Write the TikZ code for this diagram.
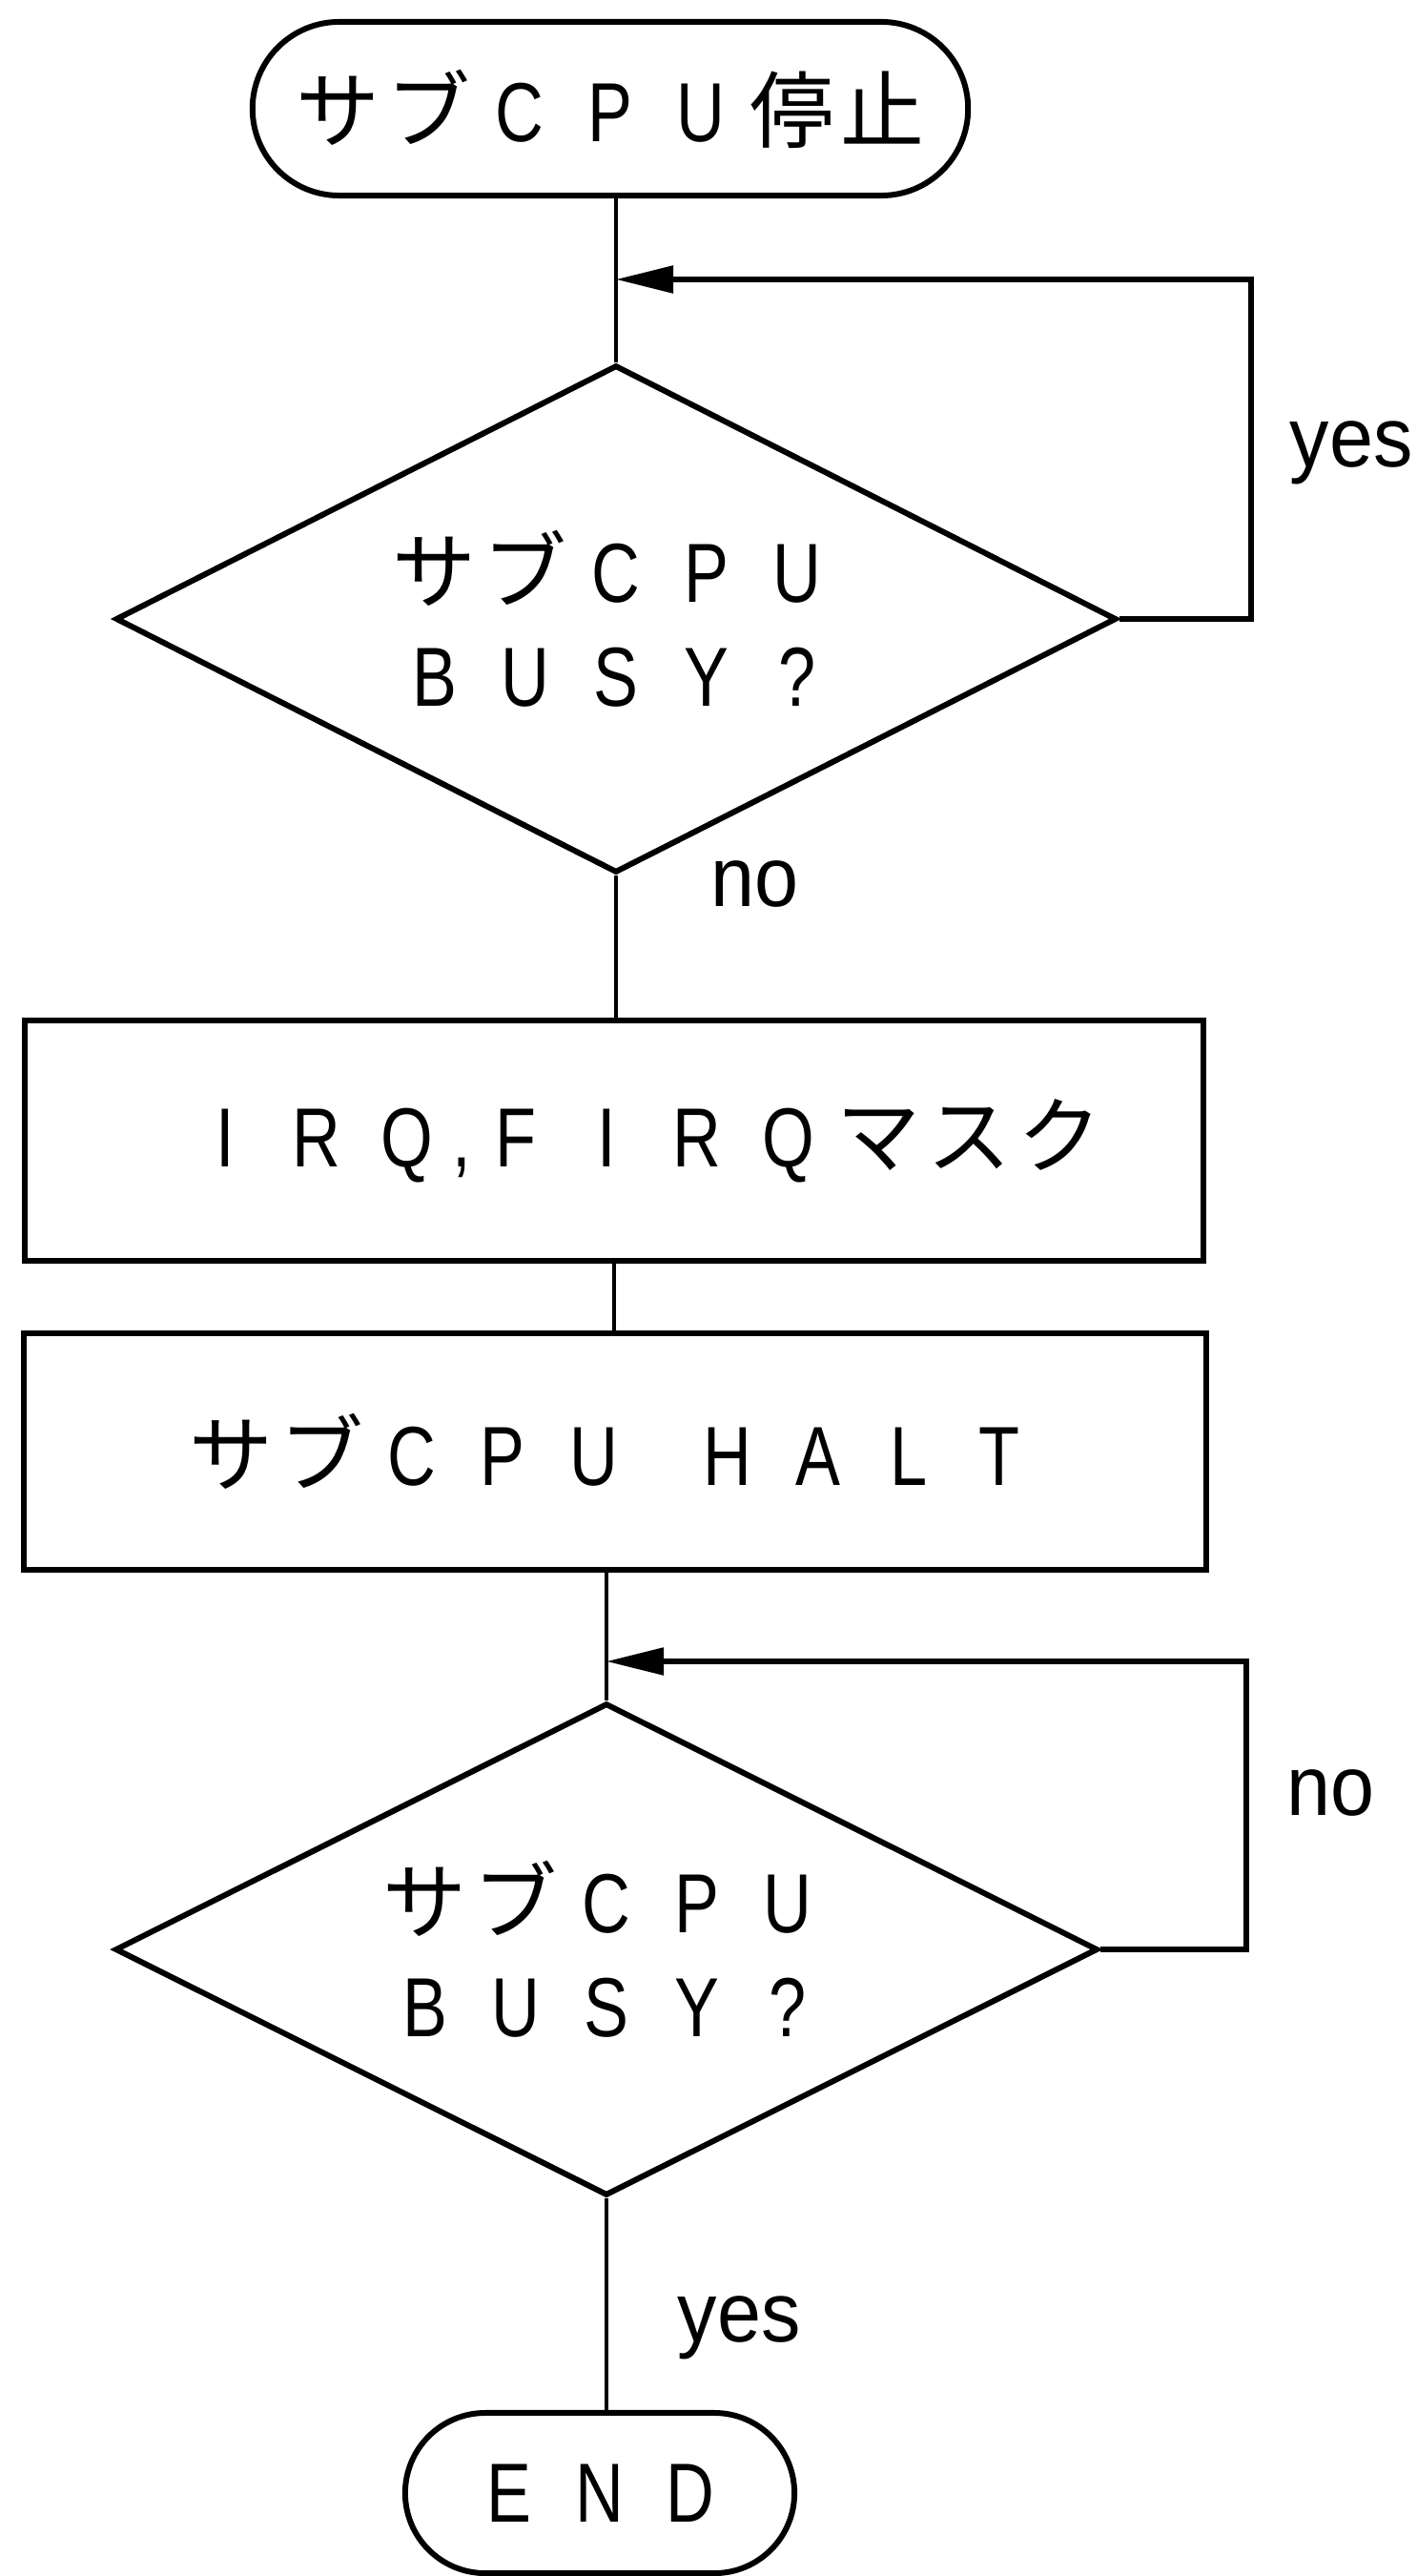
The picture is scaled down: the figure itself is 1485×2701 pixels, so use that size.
\documentclass[tikz,border=0pt]{standalone}
\usepackage{fontspec}
\setmainfont{Liberation Sans}
\newfontfamily\jpfont{Noto Sans CJK JP}
\newfontfamily\latinfont[FakeStretch=0.8]{Liberation Sans}
\newfontfamily\lblfont[FakeStretch=0.93]{Liberation Sans}
\usetikzlibrary{shapes.geometric,shapes.misc,arrows.meta}

% every character sits centred in a full-width cell
\newcommand\fw[1]{\makebox[0.95cm]{\fontsize{25pt}{30pt}\latinfont #1}}
\newcommand\kc[1]{\makebox[0.95cm]{\fontsize{25pt}{30pt}\jpfont #1}}
\def\fws#1{\fwsloop#1\relax}
\def\fwsloop#1{\ifx#1\relax\else\fw{#1}\expandafter\fwsloop\fi}
\def\kcs#1{\kcsloop#1\relax}
\def\kcsloop#1{\ifx#1\relax\else\kc{#1}\expandafter\kcsloop\fi}

\begin{document}
\begin{tikzpicture}[x=0.01cm,y=-0.01cm,
  shapeline/.style={draw=black,line width=1.7pt},
  jptext/.style={font=\jpfont\fontsize{25pt}{31pt}\selectfont},
  terminal/.style={shapeline,rounded rectangle,inner sep=0pt,jptext},
  process/.style={shapeline,rectangle,inner sep=0pt,jptext},
  decision/.style={shapeline,diamond,inner sep=0pt,align=center,jptext},
  conn/.style={line width=1.3pt},
  back/.style={line width=1.5pt,-{Triangle[length=0.6cm,width=0.28cm]}},
  lbl/.style={font=\lblfont\fontsize{25.3pt}{30pt}\selectfont,anchor=base west,inner sep=0pt}]

\useasboundingbox (0,0) rectangle (1485,2701);

% flow nodes
\node[terminal,minimum width=7.5cm,minimum height=1.82cm] (start) at (640,114) {\kcs{サブ}\fws{CPU}\kcs{停止}};
\node[decision,aspect=1.97,minimum width=10.49cm,minimum height=5.32cm] (d1) at (646,649) {\kcs{サブ}\fws{CPU}\\\fws{BUSY?}};
\node[process,minimum width=12.35cm,minimum height=2.51cm] (b1) at (644,1196) {\hspace*{0.6cm}\fws{IRQ}{\latinfont\fontsize{25pt}{30pt}\selectfont,}\fws{FIRQ}\kcs{マスク}};
\node[process,minimum width=12.4cm,minimum height=2.48cm] (b2) at (645,1522) {\kcs{サブ}\fws{CPU}\hspace{0.45cm}\fws{HALT}};
\node[decision,aspect=2,minimum width=10.3cm,minimum height=5.16cm] (d2) at (636,2044) {\kcs{サブ}\fws{CPU}\\\fws{BUSY?}};
\node[terminal,minimum width=4.08cm,minimum height=1.68cm] (endt) at (629,2614) {\fws{END}};

% branch labels
\node[lbl] (yes1) at (1352,490) {yes};
\node[lbl] (no1) at (745,950) {no};
\node[lbl] (no2) at (1349,1903) {no};
\node[lbl] (yes2) at (710,2455) {yes};

% junctions of the wait loops
\coordinate (j1) at (646,293);
\coordinate (r1) at (1312,293);
\coordinate (j2) at (636,1742);
\coordinate (r2) at (1307,1742);

% connectors
\draw[conn] (start.south -| j1) -- (d1.north);
\draw[back] (d1.east) -| (r1) -- (j1);
\draw[conn] (d1.south) -- (d1.south |- b1.north);
\draw[conn] (b1.south) -- (b1.south |- b2.north);
\draw[conn] (b2.south -| j2) -- (d2.north);
\draw[back] (d2.east) -| (r2) -- (j2);
\draw[conn] (d2.south) -- (d2.south |- endt.north);
\end{tikzpicture}
\end{document}
